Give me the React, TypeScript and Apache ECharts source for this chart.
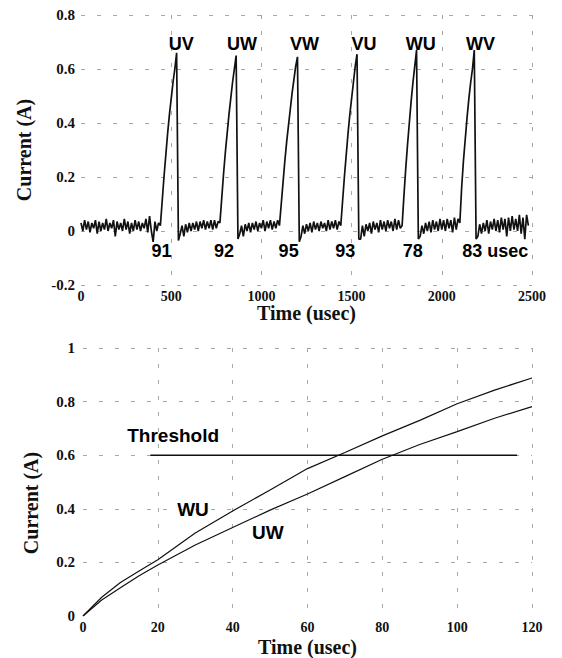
import React, { useEffect, useRef } from "react";
import * as echarts from "echarts";

// ---------- Top panel: measured phase current (A), sampled every 10 usec ----------
const sampleStep = 10; // usec between samples
const currentSamples: number[] = [
  // 0 .. 430 usec baseline
  0.03, 0.0, 0.04, 0.005, 0.035, -0.005, 0.03, 0.01, 0.04, -0.01,
  0.035, 0.0, 0.03, 0.005, 0.045, 0.0, 0.03, 0.01, 0.04, -0.02,
  0.035, 0.005, 0.03, 0.0, 0.045, 0.005, 0.035, -0.01, 0.03, 0.0,
  0.04, 0.005, 0.035, 0.0, 0.03, 0.01, 0.045, -0.005, 0.055, 0.0,
  -0.04, 0.035, 0.0, 0.03,
  // 440 .. 530 rise UV
  0.02, 0.11, 0.2, 0.28, 0.36, 0.43, 0.49, 0.55, 0.6, 0.66,
  // 540 drop
  -0.035,
  // 550 .. 760 baseline
  -0.01, 0.02, -0.02, 0.025, -0.005, 0.03, 0.0, 0.03, 0.005, 0.035,
  0.0, 0.035, 0.01, 0.04, 0.005, 0.035, 0.01, 0.04, 0.005, 0.04,
  0.01, 0.035,
  // 770 .. 860 rise UW
  0.03, 0.12, 0.21, 0.29, 0.36, 0.43, 0.49, 0.55, 0.6, 0.65,
  // 870 drop
  -0.03,
  // 880 .. 1090 baseline
  -0.01, 0.02, -0.02, 0.025, 0.0, 0.03, -0.005, 0.03, 0.005, 0.035,
  0.0, 0.03, 0.01, 0.04, 0.0, 0.035, 0.01, 0.04, 0.005, 0.035,
  0.01, 0.04,
  // 1100 .. 1200 rise VW
  0.02, 0.1, 0.18, 0.26, 0.33, 0.39, 0.45, 0.51, 0.56, 0.61, 0.645,
  // 1210 drop
  -0.04,
  // 1220 .. 1430 baseline
  -0.02, 0.02, -0.01, 0.025, 0.0, 0.03, -0.005, 0.035, 0.005, 0.03,
  0.0, 0.035, 0.01, 0.03, 0.0, 0.04, 0.005, 0.035, 0.01, 0.04,
  0.005, 0.035,
  // 1440 .. 1530 rise VU
  0.02, 0.11, 0.2, 0.28, 0.36, 0.43, 0.49, 0.55, 0.61, 0.655,
  // 1540 drop
  -0.03,
  // 1550 .. 1770 baseline
  -0.03, 0.02, -0.02, 0.025, 0.0, 0.03, -0.01, 0.035, 0.005, 0.03,
  -0.005, 0.04, 0.005, 0.035, 0.0, 0.04, 0.01, 0.035, 0.0, 0.045,
  0.005, 0.04, 0.01,
  // 1780 .. 1860 rise WU
  0.02, 0.13, 0.23, 0.32, 0.4, 0.48, 0.55, 0.61, 0.67,
  // 1870 drop
  -0.03,
  // 1880 .. 2090 baseline
  -0.02, 0.02, -0.01, 0.03, 0.0, 0.035, -0.005, 0.04, 0.005, 0.035,
  0.0, 0.045, 0.005, 0.04, 0.0, 0.045, 0.01, 0.04, -0.005, 0.05,
  0.005, 0.045,
  // 2100 .. 2180 rise WV
  0.03, 0.16, 0.26, 0.34, 0.42, 0.49, 0.55, 0.6, 0.67,
  // 2190 drop
  -0.03,
  // 2200 .. 2480 baseline
  -0.02, 0.025, -0.01, 0.03, 0.0, 0.04, -0.01, 0.035, 0.005, 0.045,
  0.0, 0.04, -0.005, 0.05, 0.005, 0.045, -0.02, 0.05, 0.0, 0.055,
  0.005, 0.045, 0.0, 0.06, -0.01, 0.05, -0.03, 0.06, 0.02,
];

const phaseLabels = ["UV", "UW", "VW", "VU", "WU", "WV"];
const phaseLabelTimes = [556, 892, 1239, 1569, 1883, 2214];
const phaseLabelLevel = 0.693;

const riseLabels = ["91", "92", "95", "93", "78", "83 usec"];
const riseLabelTimes = [446, 793, 1151, 1465, 1839, 2296];
const riseLabelLevel = -0.074;

// ---------- Bottom panel: current rise vs time ----------
const riseTimes = [0, 5, 10, 15, 20, 30, 40, 50, 60, 70, 80, 90, 100, 110, 120];
const wuCurrent = [0, 0.07, 0.125, 0.168, 0.21, 0.31, 0.392, 0.47, 0.55, 0.61, 0.672, 0.73, 0.792, 0.843, 0.888];
const uwCurrent = [0, 0.06, 0.105, 0.15, 0.19, 0.265, 0.33, 0.395, 0.455, 0.52, 0.585, 0.64, 0.688, 0.738, 0.781];

const thresholdLevel = 0.6;
const thresholdStart = 18;
const thresholdEnd = 116;

const curveLabelNames = ["Threshold", "WU", "UW"];
const curveLabelTimes = [24.1, 29.4, 49.4];
const curveLabelLevels = [0.672, 0.396, 0.313];

const SERIF = "'Liberation Serif', 'Times New Roman', serif";
const SANS = "'Liberation Sans', Arial, sans-serif";

export default function App() {
  const ref = useRef<HTMLDivElement>(null);

  useEffect(() => {
    if (!ref.current) return;
    const chart = echarts.init(ref.current, undefined, { renderer: "svg" });

    const gridLine = {
      show: true,
      lineStyle: { color: "#a8a8a8", width: 1, type: [4, 12] as number[] },
    };
    const tickLabel = {
      fontFamily: SERIF,
      fontWeight: "bold" as const,
      fontSize: 15,
      color: "#111",
      formatter: (v: number) => String(v),
    };
    const axisName = {
      fontFamily: SERIF,
      fontWeight: "bold" as const,
      fontSize: 20,
      color: "#111",
    };
    const textLabel = (size: number) => ({
      show: true,
      position: "inside",
      formatter: "{b}",
      fontFamily: SANS,
      fontWeight: "bold",
      fontSize: size,
      color: "#000",
      textBorderWidth: 0,
      opacity: 1,
    });

    const trace = currentSamples.map((v, i) => [i * sampleStep, v]);

    const option: any = {
      animation: false,
      backgroundColor: "#fff",
      grid: [
        { left: 81, right: 30, top: 15, height: 270 },
        { left: 83, right: 30, top: 348, height: 268 },
      ],
      xAxis: [
        {
          type: "value",
          gridIndex: 0,
          min: 0,
          max: 2500,
          interval: 500,
          axisLine: { show: false },
          axisTick: { show: false },
          splitLine: { ...gridLine, showMinLine: false },
          axisLabel: { ...tickLabel, fontSize: 14, margin: 4 },
          name: "Time (usec)",
          nameLocation: "middle",
          nameGap: 18,
          nameMoveOverlap: false,
          nameTextStyle: axisName,
        },
        {
          type: "value",
          gridIndex: 1,
          min: 0,
          max: 120,
          interval: 20,
          axisLine: { show: false },
          axisTick: { show: false },
          splitLine: { ...gridLine, showMinLine: false },
          axisLabel: { ...tickLabel, fontSize: 14, margin: 4 },
          name: "Time (usec)",
          nameLocation: "middle",
          nameGap: 21,
          nameMoveOverlap: false,
          nameTextStyle: axisName,
        },
      ],
      yAxis: [
        {
          type: "value",
          gridIndex: 0,
          min: -0.2,
          max: 0.8,
          interval: 0.2,
          axisLine: { show: false },
          axisTick: { show: false },
          splitLine: gridLine,
          axisLabel: { ...tickLabel, margin: 6 },
          name: "Current (A)",
          nameLocation: "middle",
          nameGap: 47,
          nameMoveOverlap: false,
          nameTextStyle: axisName,
        },
        {
          type: "value",
          gridIndex: 1,
          min: 0,
          max: 1,
          interval: 0.2,
          axisLine: { show: false },
          axisTick: { show: false },
          splitLine: { ...gridLine, showMinLine: false },
          axisLabel: { ...tickLabel, margin: 8 },
          name: "Current (A)",
          nameLocation: "middle",
          nameGap: 42,
          nameMoveOverlap: false,
          nameTextStyle: { ...axisName, padding: [0, 42, 0, 0] },
        },
      ],
      series: [
        {
          type: "line",
          xAxisIndex: 0,
          yAxisIndex: 0,
          data: trace,
          showSymbol: false,
          silent: true,
          lineStyle: { color: "#111", width: 1.7 },
        },
        {
          type: "scatter",
          xAxisIndex: 0,
          yAxisIndex: 0,
          silent: true,
          symbolSize: 0,
          itemStyle: { color: "#000" },
          label: textLabel(18),
          data: phaseLabels
            .map((n, i) => ({ name: n, value: [phaseLabelTimes[i], phaseLabelLevel] }))
            .concat(
              riseLabels.map((n, i) => ({ name: n, value: [riseLabelTimes[i], riseLabelLevel] }))
            ),
        },
        {
          type: "line",
          xAxisIndex: 1,
          yAxisIndex: 1,
          data: riseTimes.map((t, i) => [t, wuCurrent[i]]),
          showSymbol: false,
          silent: true,
          lineStyle: { color: "#111", width: 1.2 },
        },
        {
          type: "line",
          xAxisIndex: 1,
          yAxisIndex: 1,
          data: riseTimes.map((t, i) => [t, uwCurrent[i]]),
          showSymbol: false,
          silent: true,
          lineStyle: { color: "#111", width: 1.2 },
        },
        {
          type: "line",
          xAxisIndex: 1,
          yAxisIndex: 1,
          data: [
            [thresholdStart, thresholdLevel],
            [thresholdEnd, thresholdLevel],
          ],
          showSymbol: false,
          silent: true,
          lineStyle: { color: "#111", width: 1.6 },
        },
        {
          type: "scatter",
          xAxisIndex: 1,
          yAxisIndex: 1,
          silent: true,
          symbolSize: 0,
          itemStyle: { color: "#000" },
          label: textLabel(19),
          data: curveLabelNames.map((n, i) => ({
            name: n,
            value: [curveLabelTimes[i], curveLabelLevels[i]],
          })),
        },
      ],
    };

    chart.setOption(option);
    return () => chart.dispose();
  }, []);

  return (
    <div
      ref={ref}
      style={{
        position: "fixed",
        left: 0,
        top: 0,
        width: 562,
        height: 658,
        background: "#fff",
      }}
    />
  );
}
